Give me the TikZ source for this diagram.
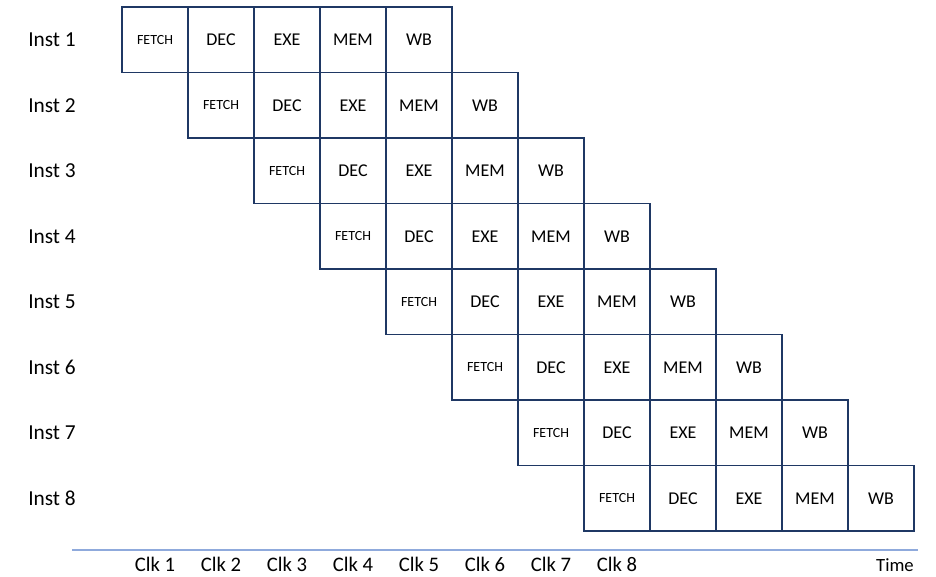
\documentclass[tikz,border=0pt]{standalone}
\usepackage{fontspec}
\setmainfont{Carlito}
\usepackage{tikz}
\usepackage{xcolor}
\definecolor{cellline}{HTML}{1F3864}
\definecolor{axisline}{HTML}{8FAADC}
\tikzset{
  cell/.style={draw=cellline,line width=1.3pt,minimum width=49.5pt,minimum height=49.1pt,
    inner sep=0pt,outer sep=0pt,anchor=north west,font=\fontsize{13.5}{15}\selectfont},
  fetchcell/.style={cell,font=\fontsize{10.5}{12}\selectfont},
  instlabel/.style={font=\fontsize{16}{18}\selectfont},
  clklabel/.style={anchor=base,inner sep=0pt,font=\fontsize{15.5}{17}\selectfont}
}

\begin{document}
\begin{tikzpicture}[x=0.75pt,y=-0.75pt]
\useasboundingbox (0,0) rectangle (936,577);
\foreach \r in {1,...,8}{
 \node[instlabel] (inst\r) at (52,{7+65.5*(\r-0.5)}) {Inst \r};
 \foreach \s/\stage in {1/DEC,2/EXE,3/MEM,4/WB}{
  \node[cell] (cell\r\s) at ({122+66*(\r-1+\s)},{7+65.5*(\r-1)}) {\stage};
 }
 \node[fetchcell] (cell\r0) at ({122+66*(\r-1)},{7+65.5*(\r-1)}) {FETCH};
 }

\coordinate (axisL) at (72,550);
\coordinate (axisR) at (918,550);
\draw [axisline,line width=1.1pt] (axisL)--(axisR);
\foreach \c in {1,...,8}{
 \node[clklabel] (clk\c) at ({155+66*(\c-1)},571) {Clk \c};
 }
\node[clklabel,font=\fontsize{14}{16}\selectfont] (time) at (895,571) {Time};

\end{tikzpicture}
\end{document}
